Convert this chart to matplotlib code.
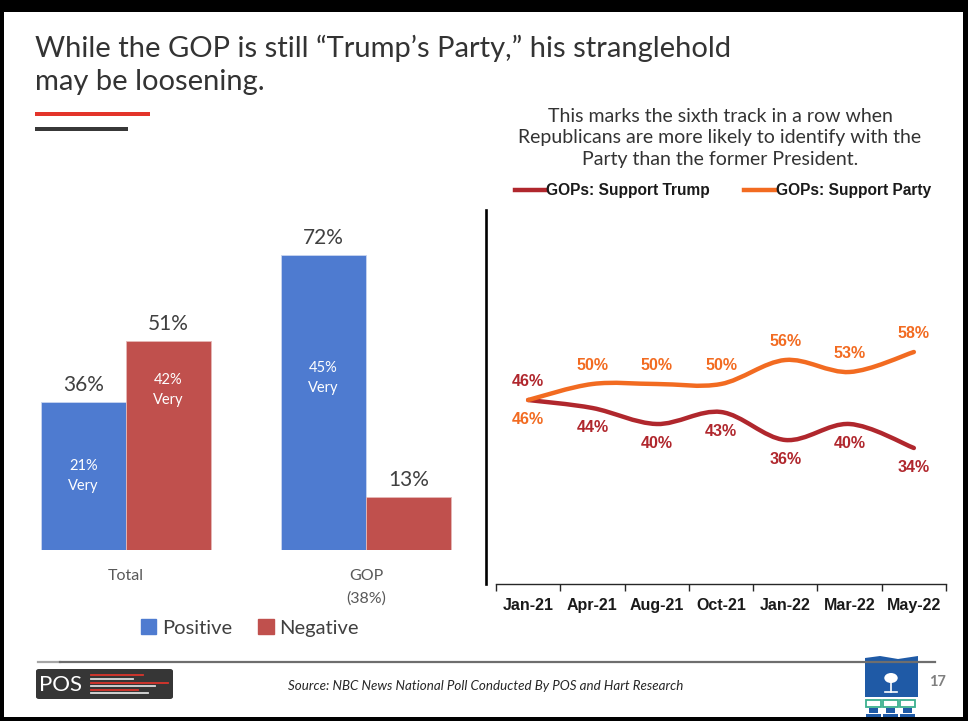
import numpy as np
import matplotlib
matplotlib.use("Agg")
import matplotlib.pyplot as plt
from matplotlib.patches import Rectangle, FancyBboxPatch, PathPatch, Patch, Circle, Polygon
from matplotlib.lines import Line2D
from matplotlib.path import Path

# ---------------- data ----------------
bar_groups = ["Total", "GOP\n(38%)"]
positive = [36, 72]
negative = [51, 13]
positive_very = [21, 45]
negative_very = [42, None]

months = ["Jan-21", "Apr-21", "Aug-21", "Oct-21", "Jan-22", "Mar-22", "May-22"]
support_trump = [46, 44, 40, 43, 36, 40, 34]
support_party = [46, 50, 50, 50, 56, 53, 58]

title_lines = ["While the GOP is still \u201cTrump\u2019s Party,\u201d his stranglehold",
               "may be loosening."]
subtitle_lines = ["This marks the sixth track in a row when",
                  "Republicans are more likely to identify with the",
                  "Party than the former President."]
source_text = "Source: NBC News National Poll Conducted By POS and Hart Research"

BLUE = "#4E7BD0"
RED = "#C0504D"
TRUMP = "#B0272D"
PARTY = "#F26B21"

W, H = 968, 721
fig = plt.figure(figsize=(W / 100, H / 100), dpi=100)
fig.patch.set_facecolor("white")


def fx(x):
    return x / W


def fy(y):
    return 1 - y / H


def rect_px(x0, y0, x1, y1, **kw):
    fig.patches.append(Rectangle((fx(x0), fy(y1)), fx(x1 - x0), (y1 - y0) / H,
                                 transform=fig.transFigure, **kw))


# ---------------- frame ----------------
rect_px(0, 0, W, 12, color="black", lw=0)
rect_px(0, 0, 4, H, color="black", lw=0)
rect_px(W - 5, 0, W, H, color="black", lw=0)
rect_px(0, H - 4, W, H, color="black", lw=0)

# ---------------- title ----------------
for i, line in enumerate(title_lines):
    fig.text(fx(35), fy(57 + i * 33), line, fontsize=21, family="Lato", weight="normal",
             color="#333333", va="baseline", ha="left")
rect_px(35, 112, 150, 116, color="#E3342A", lw=0)
rect_px(35, 127, 128, 131, color="#383838", lw=0)

# subtitle
for i, s in enumerate(subtitle_lines):
    fig.text(fx(720), fy(116 + i * 21.5), s, fontsize=14, family="Lato",
             color="#333333", ha="center", va="center")

# ---------------- bar chart ----------------
ax1 = fig.add_axes([fx(30), fy(550), fx(440), 328 / H])
x = np.arange(len(bar_groups))
bw = 85 / 240
b1 = ax1.bar(x - bw / 2, positive, bw, color=BLUE, edgecolor="#c9d6f0", lw=0.6)
b2 = ax1.bar(x + bw / 2, negative, bw, color=RED, edgecolor="#e6b8b7", lw=0.6)
ax1.set_xlim((30 - 126) / 240, (470 - 126) / 240)
ax1.set_ylim(0, 80)
for s in ax1.spines.values():
    s.set_visible(False)
ax1.set_yticks([])
ax1.set_xticks(x)
ax1.set_xticklabels(bar_groups, fontsize=11.5, family="Lato", color="#595959",
                    linespacing=1.7)
ax1.tick_params(axis="x", length=0, pad=14)
for bars, vals in ((b1, positive), (b2, negative)):
    for r, v in zip(bars, vals):
        ax1.annotate(f"{v}%", (r.get_x() + r.get_width() / 2, v), xytext=(0, 5),
                     textcoords="offset points", ha="center", va="bottom",
                     fontsize=15, family="Lato", color="#404040")
for bars, vv in ((b1, positive_very), (b2, negative_very)):
    for r, v in zip(bars, vv):
        if v is not None:
            ax1.text(r.get_x() + r.get_width() / 2, v - 3, f"{v}%\nVery",
                     ha="center", va="center", fontsize=10.5, family="Lato",
                     color="white", linespacing=1.5)
fig.legend(handles=[Patch(color=BLUE, label="Positive"), Patch(color=RED, label="Negative")],
           loc="center", bbox_to_anchor=(fx(250), fy(628)), ncol=2, frameon=False,
           prop={"family": "Lato", "size": 14.5}, labelcolor="#404040",
           handlelength=0.75, handleheight=0.75, handletextpad=0.3, columnspacing=1.3)

# ---------------- line chart ----------------
ax2 = fig.add_axes([fx(496), fy(584), fx(450), (584 - 210) / H])
xs = np.arange(len(months))
ax2.set_xlim(-0.5, len(months) - 0.5)
ax2.set_ylim(0, 93.5)


def smooth_path(xv, yv):
    pts = np.column_stack([xv, yv]).astype(float)
    n = len(pts)
    verts = [pts[0]]
    codes = [Path.MOVETO]
    for i in range(n - 1):
        p0 = pts[i - 1] if i > 0 else pts[i]
        p1 = pts[i]
        p2 = pts[i + 1]
        p3 = pts[i + 2] if i + 2 < n else pts[i + 1]
        c1 = p1 + (p2 - p0) / 6
        c2 = p2 - (p3 - p1) / 6
        verts += [c1, c2, p2]
        codes += [Path.CURVE4] * 3
    return Path(verts, codes)


for vals, col in ((support_trump, TRUMP), (support_party, PARTY)):
    ax2.add_patch(PathPatch(smooth_path(xs, vals), fill=False, edgecolor=col, lw=3.2,
                            capstyle="round", joinstyle="round"))

lab_font = dict(fontsize=11.5, family="Liberation Sans", weight="bold")
for i, (t, p) in enumerate(zip(support_trump, support_party)):
    if i == 0:
        ax2.annotate(f"{t}%", (i, t), xytext=(0, 13), textcoords="offset points",
                     ha="center", va="center", color=TRUMP, **lab_font)
        ax2.annotate(f"{p}%", (i, p), xytext=(0, -14), textcoords="offset points",
                     ha="center", va="center", color=PARTY, **lab_font)
    else:
        ax2.annotate(f"{t}%", (i, t), xytext=(0, -14), textcoords="offset points",
                     ha="center", va="center", color=TRUMP, **lab_font)
        ax2.annotate(f"{p}%", (i, p), xytext=(0, 13), textcoords="offset points",
                     ha="center", va="center", color=PARTY, **lab_font)

ax2.spines["top"].set_visible(False)
ax2.spines["right"].set_visible(False)
ax2.spines["left"].set_position(("outward", 7))
ax2.spines["left"].set_linewidth(1.9)
ax2.spines["left"].set_color("black")
ax2.spines["bottom"].set_linewidth(1.0)
ax2.spines["bottom"].set_color("#262626")
ax2.set_yticks([])
ax2.set_xticks(xs)
ax2.set_xticklabels(months, fontsize=11.5, family="Liberation Sans", weight="bold",
                    color="#1a1a1a")
ax2.set_xticks(np.arange(-0.5, len(months)), minor=True)
ax2.tick_params(axis="x", which="major", length=0, pad=10)
ax2.tick_params(axis="x", which="minor", length=5, width=1.0, color="#262626")

fig.legend(handles=[Line2D([], [], color=TRUMP, lw=3.2, label="GOPs: Support Trump"),
                    Line2D([], [], color=PARTY, lw=3.2, label="GOPs: Support Party")],
           loc="center", bbox_to_anchor=(fx(723), fy(191)), ncol=2, frameon=False,
           prop={"family": "Liberation Sans", "weight": "bold", "size": 11.2},
           labelcolor="#1a1a1a", handlelength=2.0, handletextpad=0.05,
           columnspacing=2.2)

# ---------------- footer ----------------
fig.lines.append(Line2D([fx(38), fx(60)], [fy(662), fy(662)], transform=fig.transFigure,
                        color="#a6a6a6", lw=1.6))
fig.lines.append(Line2D([fx(60), fx(935)], [fy(662), fy(662)], transform=fig.transFigure,
                        color="#6e6e6e", lw=1.6))

# POS logo
fig.patches.append(FancyBboxPatch((fx(36), fy(699)), fx(137), 30 / H,
                                  boxstyle="round,pad=0,rounding_size=0.003",
                                  transform=fig.transFigure, color="#363636", lw=0))
fig.text(fx(39), fy(685), "POS", fontsize=16, family="Lato", weight="normal",
         color="white", va="center", ha="left")
for yy, xe, c in ((675, 143, "#d9342b"), (679, 133, "#dddddd"), (683, 168, "#d9342b"),
                  (686, 155, "#dddddd"), (690, 138, "#d9342b"), (693, 148, "#dddddd")):
    fig.lines.append(Line2D([fx(91), fx(xe)], [fy(yy), fy(yy)], transform=fig.transFigure,
                            color=c, lw=1.3))

fig.text(fx(486), fy(686), source_text, fontsize=9.6, family="Lato", style="italic",
         color="#262626", ha="center", va="center")

# right logo (simplified)
fig.patches.append(Polygon([(fx(865), fy(697)), (fx(865), fy(658)), (fx(880), fy(656)),
                            (fx(898), fy(659)), (fx(918), fy(656)), (fx(918), fy(697))],
                           closed=True, transform=fig.transFigure, color="#1f5aa6", lw=0))
fig.patches.append(Circle((fx(891), fy(678)), 5 / H, transform=fig.transFigure,
                          color="white", lw=0))
fig.lines.append(Line2D([fx(891), fx(891)], [fy(680), fy(692)], transform=fig.transFigure,
                        color="white", lw=1.2))
fig.lines.append(Line2D([fx(885), fx(897)], [fy(692), fy(692)], transform=fig.transFigure,
                        color="white", lw=1.2))
for cx in (866, 883, 900):
    fig.patches.append(Rectangle((fx(cx), fy(707)), fx(15), 7 / H, transform=fig.transFigure,
                                 fill=False, edgecolor="#3bb08f", lw=1.3))
    fig.patches.append(Rectangle((fx(cx + 3), fy(713)), fx(9), 5 / H, transform=fig.transFigure,
                                 color="#1f5aa6", lw=0))
    fig.patches.append(Rectangle((fx(cx), fy(717)), fx(15), 3 / H, transform=fig.transFigure,
                                 color="#1f5aa6", lw=0))
fig.text(fx(929), fy(682), "17", fontsize=10.5, family="Lato", weight="bold",
         color="#7f7f7f", ha="left", va="center")

fig.savefig("out.png", dpi=100, facecolor="white")
